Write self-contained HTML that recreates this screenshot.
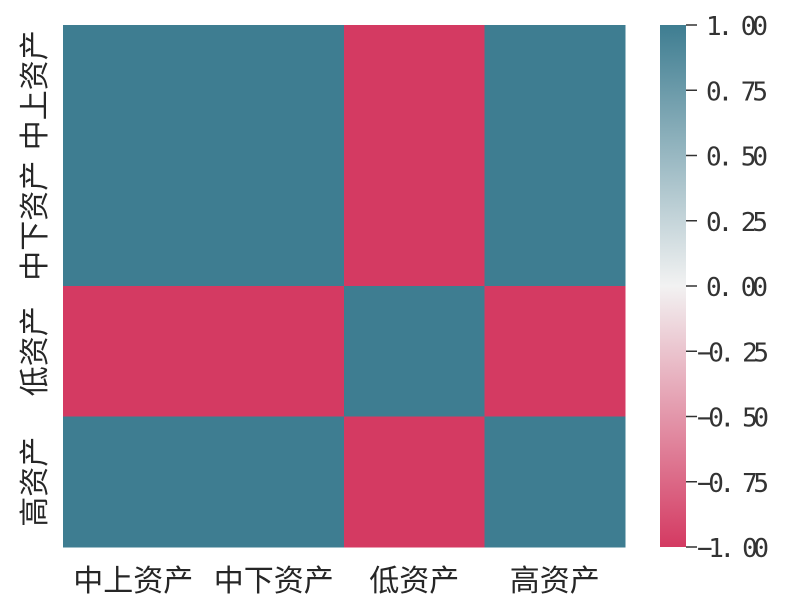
<!DOCTYPE html>
<html><head><meta charset="utf-8"><style>
body{margin:0;background:#fff;}
svg text{font-family:"Noto Sans CJK SC","WenQuanYi Zen Hei",sans-serif;fill:#262626;}
svg text.num{font-family:"DejaVu Sans Mono","Liberation Mono",monospace;fill:#333;}
</style></head><body>
<svg width="800" height="611">
<defs><linearGradient id="cb" x1="0" y1="1" x2="0" y2="0">
<stop offset="0" stop-color="#d43a62"/><stop offset="0.5" stop-color="#f2f2f2"/><stop offset="1" stop-color="#3e7d91"/>
</linearGradient></defs>
<g id="cells"></g>
<g id="labels"></g>
<rect x="660" y="25" width="26" height="522" fill="url(#cb)"/>
<g id="cbticks"></g>
</svg>
<script>
const categories=["中上资产","中下资产","低资产","高资产"];
const row0=[1,1,-1,1];
const row1=[1,1,-1,1];
const row2=[-1,-1,1,-1];
const row3=[1,1,-1,1];
const values=[row0,row1,row2,row3];
const cbTicks=[1,0.75,0.5,0.25,0,-0.25,-0.5,-0.75,-1];
const cbLabels=["1. 00","0. 75","0. 50","0. 25","0. 00","−0. 25","−0. 50","−0. 75","−1. 00"];
const L=63,R=625,T=25,B=547;
const cw=(R-L)/categories.length, ch=(B-T)/categories.length;
const NS="http://www.w3.org/2000/svg";
function lerp(a,b,t){return a.map((v,i)=>Math.round(v+(b[i]-v)*t));}
function color(v){const red=[212,58,98],mid=[242,242,242],blu=[62,125,145];
 const c=v<0?lerp(mid,red,-v):lerp(mid,blu,v);return `rgb(${c})`;}
function cy(v){return T+(1-v)/2*(B-T);}
const cells=document.getElementById('cells');
values.forEach((row,i)=>row.forEach((v,j)=>{
 const r=document.createElementNS(NS,'rect');
 r.setAttribute('x',L+j*cw);r.setAttribute('y',T+i*ch);
 r.setAttribute('width',cw+0.5);r.setAttribute('height',ch+0.5);
 r.setAttribute('fill',color(v));
 
 
 cells.appendChild(r);}));
const lab=document.getElementById('labels');
categories.forEach((c,k)=>{
 const t=document.createElementNS(NS,'text');
 t.setAttribute('x',L+(k+0.5)*cw);t.setAttribute('y',591);
 t.setAttribute('text-anchor','middle');t.setAttribute('font-size','30');
 t.textContent=c;
 
 
 lab.appendChild(t);
 const u=document.createElementNS(NS,'text');
 const yy=T+(k+0.5)*ch;
 u.setAttribute('transform',`translate(45,${yy}) rotate(-90)`);
 u.setAttribute('text-anchor','middle');u.setAttribute('font-size','30');
 u.textContent=c;
 
 
 lab.appendChild(u);
});
const cbt=document.getElementById('cbticks');
cbTicks.forEach((v,k)=>{
 const y=cy(v);
 const l=document.createElementNS(NS,'line');
 l.setAttribute('x1',686);l.setAttribute('x2',697);l.setAttribute('y1',y);l.setAttribute('y2',y);
 l.setAttribute('stroke','#333');l.setAttribute('stroke-width','1.5');
 
 
 cbt.appendChild(l);
 const t=document.createElementNS(NS,'text');
 t.setAttribute('class','num');
 t.setAttribute('x',v<0?697:706);t.setAttribute('y',y+10);t.setAttribute('font-size','26');
 t.setAttribute('textLength',v<0?72:62);
 t.textContent=cbLabels[k];
 
 
 cbt.appendChild(t);
});
</script>
</body></html>
